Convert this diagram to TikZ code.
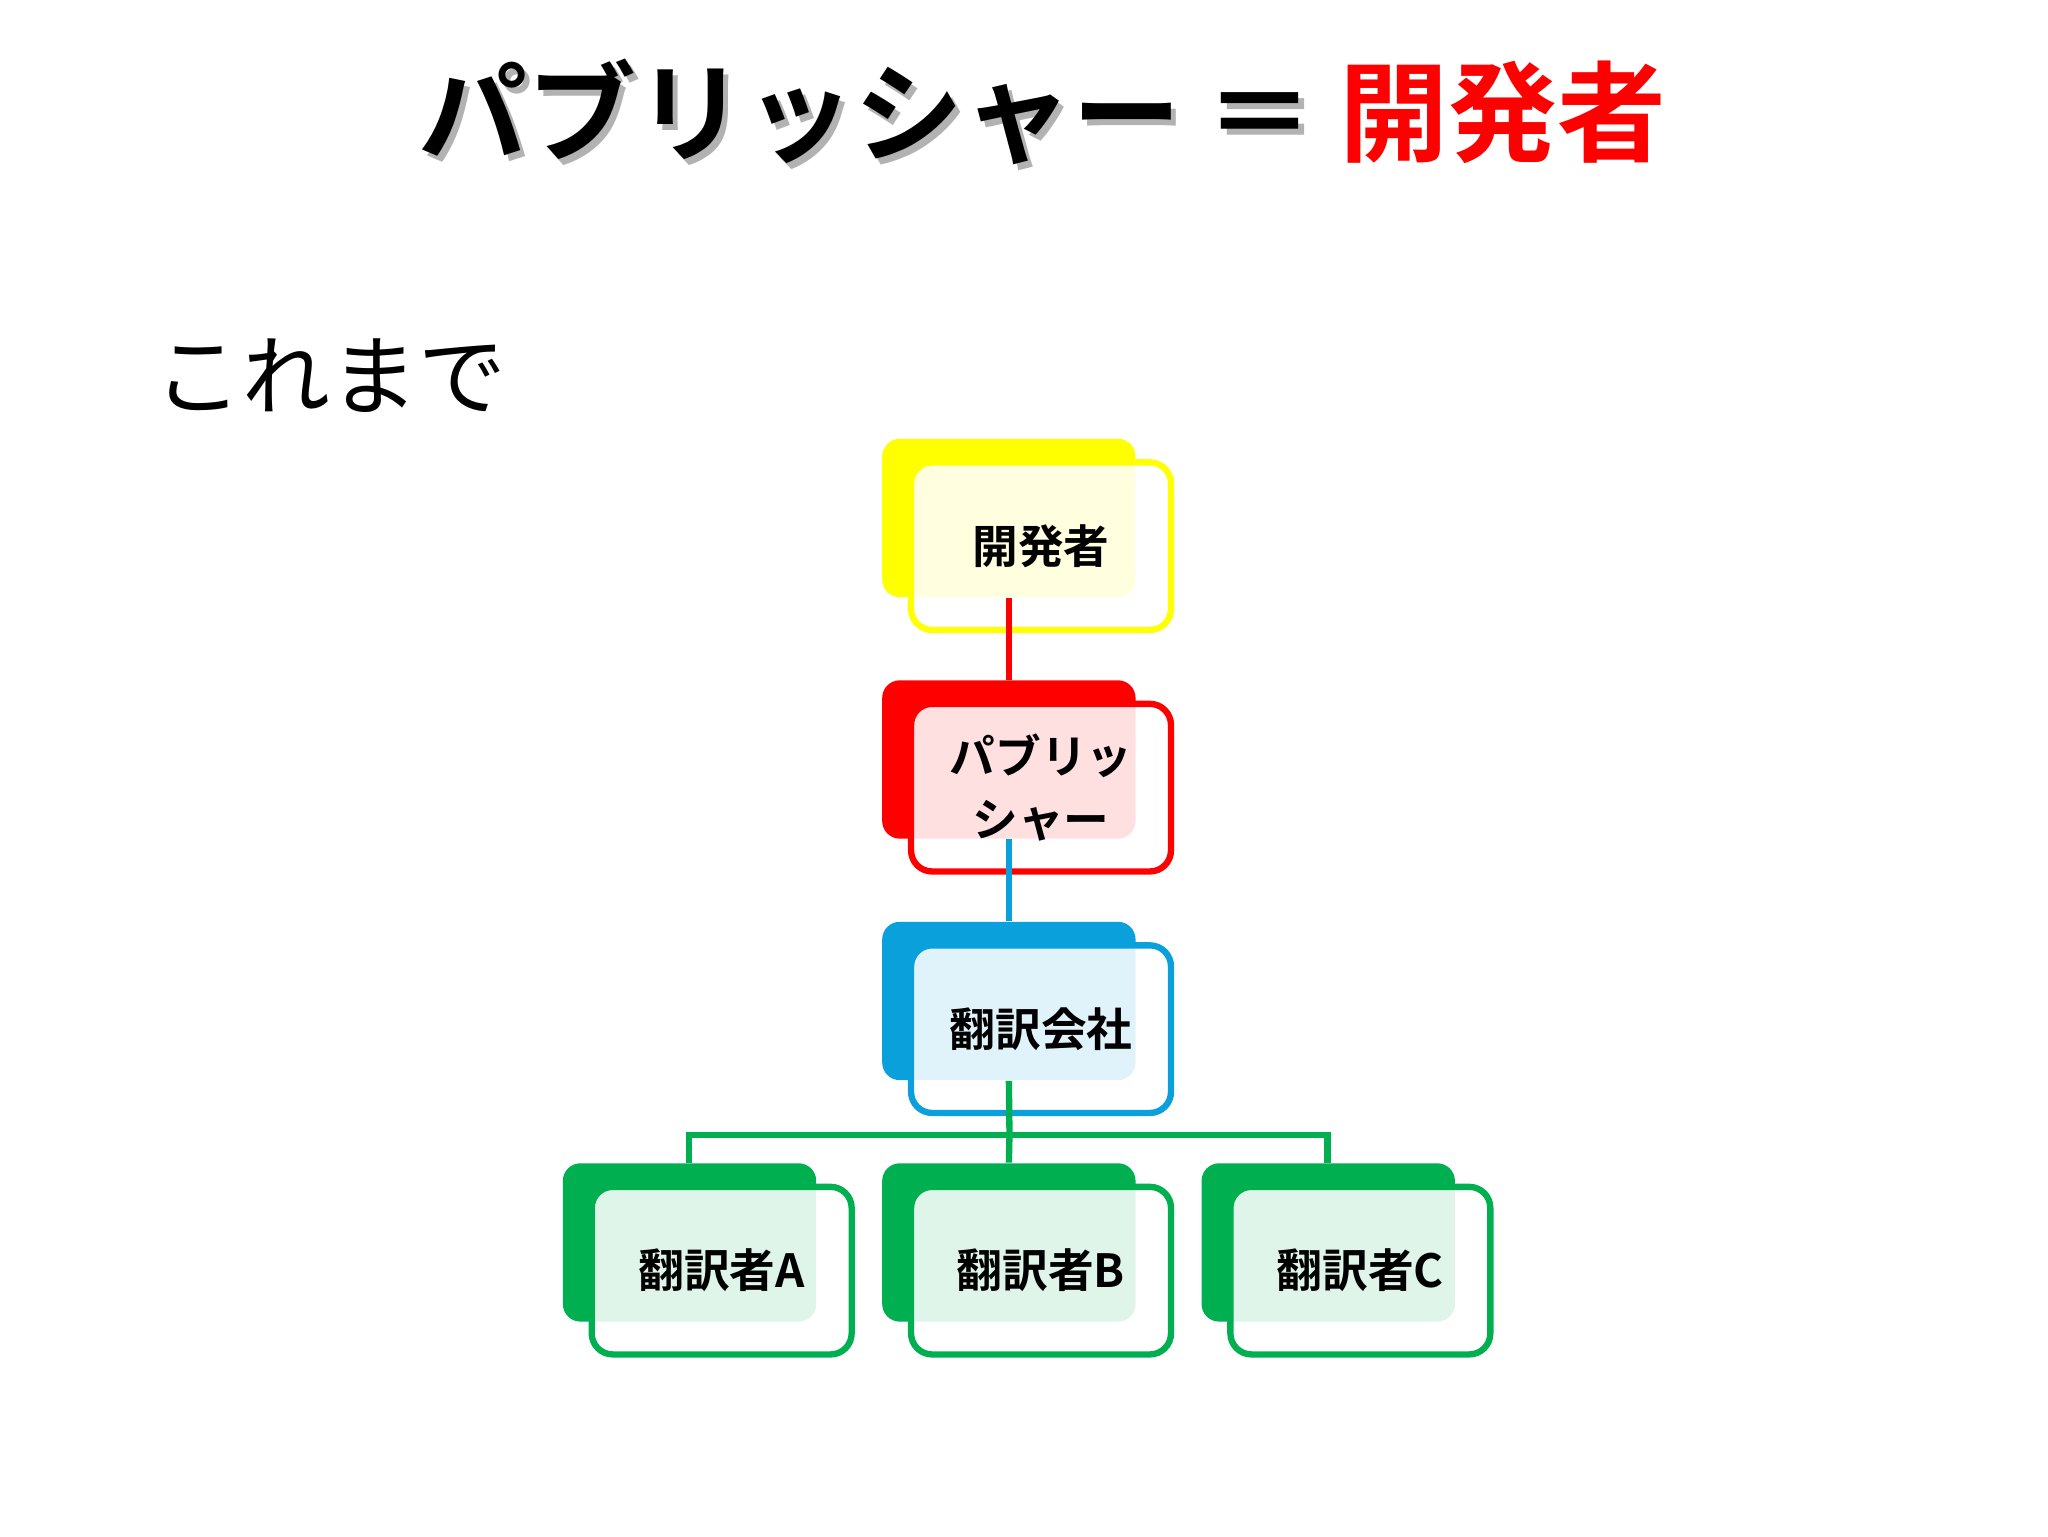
\documentclass[tikz,border=0pt]{standalone}
\usepackage{fontspec}
\newfontfamily\jp{Noto Sans CJK JP}
\newfontfamily\jpb{Noto Sans CJK JP Bold}
\definecolor{cy}{HTML}{FFFF00}
\definecolor{cr}{HTML}{FF0000}
\definecolor{cb}{HTML}{0AA0DC}
\definecolor{cg}{HTML}{00B050}
\tikzset{
 back/.style={fill=#1,draw=none,rounded corners=5pt,minimum width=192*0.0132cm,minimum height=120*0.0132cm,inner sep=0pt},
 front/.style={draw=#1,line width=1.8pt,fill=white,fill opacity=0.88,text opacity=1,rounded corners=6pt,minimum width=197*0.0132cm,minimum height=127*0.0132cm,inner sep=0pt,font=\jpb\fontsize{13}{18}\selectfont,align=center},
 conn/.style={draw=#1,line width=1.8pt}
}
\begin{document}
\begin{tikzpicture}[x=0.0132cm,y=-0.0132cm]
\useasboundingbox (0,0) rectangle (1552,1164);
\node[text=gray!60,font=\jpb\fontsize{31}{36}\selectfont] at (794,89) {パブリッシャー ＝ \phantom{開発者}};
\node[font=\jpb\fontsize{31}{36}\selectfont] (title) at (790,85) {パブリッシャー ＝ \textcolor{cr}{開発者}};
\node[font=\jp\fontsize{25}{30}\selectfont,anchor=west] (intro) at (108,285) {これまで};
\newcommand\orgbox[5]{%
 \node[back=#4,anchor=north west] (#1b) at (#2,#3) {};
 \node[front=#4,anchor=north west] (#1) at (#2+20,#3+16) {#5};}
\orgbox{dev}{668}{332}{cy}{開発者}
\orgbox{pub}{668}{515}{cr}{パブリッ\\シャー}
\orgbox{tr}{668}{698}{cb}{翻訳会社}
\orgbox{ta}{426}{881}{cg}{翻訳者A}
\orgbox{tb}{668}{881}{cg}{翻訳者B}
\orgbox{tc}{910}{881}{cg}{翻訳者C}
\coordinate (j) at (765,860);
\draw[conn=cr] (devb.south) -- (pubb.north);
\draw[conn=cb] (pubb.south) -- (trb.north);
\draw[conn=cg] (trb.south) -- (j);
\draw[conn=cg] (tab.north -| 522,0) |- (j) -| (tcb.north -| 1006,0);
\draw[conn=cg] (j) -- (tbb.north);
\end{tikzpicture}
\end{document}
